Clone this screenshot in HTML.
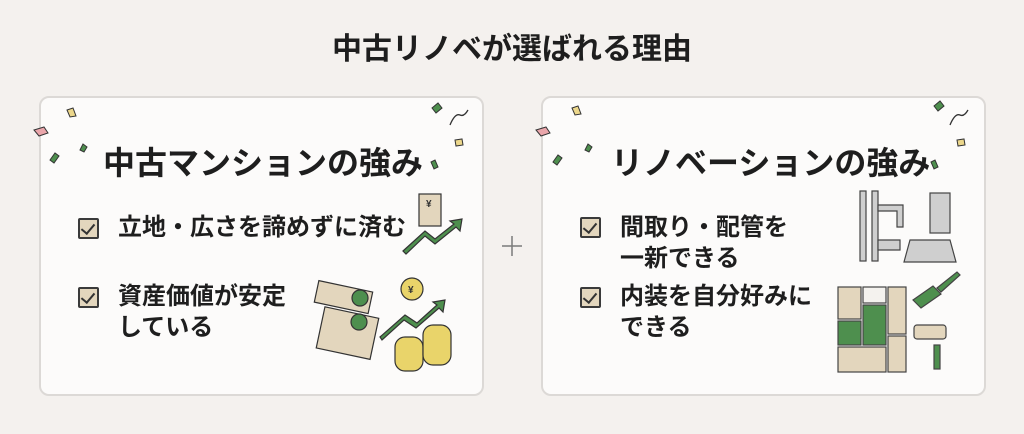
<!DOCTYPE html>
<html><head><meta charset="utf-8"><style>
*{margin:0;padding:0;box-sizing:border-box}
body{width:1024px;height:434px;background:#f4f1ee;position:relative;overflow:hidden;font-family:"Liberation Sans","Noto Sans CJK JP",sans-serif;color:#1e1e1e}
.t{position:absolute;font-weight:bold;white-space:nowrap}
.i{font-size:24px;line-height:31px}
.card{position:absolute;top:96px;width:445px;height:300px;background:#fcfbfa;border:2px solid #dcd9d6;border-radius:10px}
.cb{position:absolute;width:21px;height:21px;background:#e3d6bd;border:2px solid #3a3a3a;border-radius:2px}
.cb:after{content:"";position:absolute;left:4px;top:1px;width:6px;height:11px;border:solid #333;border-width:0 2px 2px 0;transform:rotate(40deg)}
svg{position:absolute;left:0;top:0}
</style></head><body>
<div class="t" style="left:0;width:1024px;text-align:center;top:32px;font-size:30px;line-height:36px">中古リノベが選ばれる理由</div>
<div class="card" style="left:39px"></div>
<div class="card" style="left:541px"></div>
<div class="t" style="left:103px;top:138px;font-size:32px">中古マンションの強み</div>
<div class="t" style="left:611px;top:138px;font-size:32px">リノベーションの強み</div>

<div class="cb" style="left:78px;top:218px"></div>
<div class="t i" style="left:118px;top:212px">立地・広さを諦めずに済む</div>
<div class="cb" style="left:78px;top:287px"></div>
<div class="t i" style="left:118px;top:281px">資産価値が安定<br>している</div>

<div class="cb" style="left:580px;top:217px"></div>
<div class="t i" style="left:620px;top:212px">間取り・配管を<br>一新できる</div>
<div class="cb" style="left:580px;top:287px"></div>
<div class="t i" style="left:620px;top:281px">内装を自分好みに<br>できる</div>

<svg width="1024" height="434">
<g stroke="#7a7a7a" stroke-width="1.5"><line x1="502" y1="246" x2="522" y2="246"/><line x1="512" y1="236" x2="512" y2="256"/></g>
<g stroke="#333" stroke-width="1">
<path d="M34 130 l10 -3 l4 6 l-9 3z" fill="#eaa6ab"/><path d="M67 110 l6 -2 l3 8 l-6 1z" fill="#ecd78b"/>
<path d="M50 160 l5 -7 l4 3 l-5 7z" fill="#4e8f4e"/><path d="M80 150 l3 -6 l4 3 l-3 5z" fill="#4e8f4e"/>
<path d="M432 108 l6 -5 l4 5 l-6 5z" fill="#4e8f4e"/><path d="M455 140 l7 -1 l1 6 l-7 1z" fill="#ecd78b"/><path d="M435 160 l3 7 l-4 2 l-3 -7z" fill="#4e8f4e"/>
<path d="M536 130 l10 -3 l4 6 l-9 3z" fill="#eaa6ab"/><path d="M572 108 l6 -2 l3 8 l-6 1z" fill="#ecd78b"/>
<path d="M553 162 l5 -7 l4 3 l-5 7z" fill="#4e8f4e"/><path d="M585 150 l3 -6 l4 3 l-3 5z" fill="#4e8f4e"/>
<path d="M934 106 l6 -5 l4 5 l-6 5z" fill="#4e8f4e"/><path d="M957 140 l7 -1 l1 6 l-7 1z" fill="#ecd78b"/><path d="M935 160 l3 7 l-4 2 l-3 -7z" fill="#4e8f4e"/>
</g>
<path d="M450 125 q5 -12 10 -10 q4 2 8 -5" fill="none" stroke="#333" stroke-width="1.3"/>
<path d="M950 125 q5 -12 10 -10 q4 2 8 -5" fill="none" stroke="#333" stroke-width="1.3"/>
<g stroke="#333" stroke-width="1.2">
<rect x="419" y="194" width="22" height="32" fill="#e3d6bd"/>
<path d="M403 251 l22 -20 l10 8 l19 -15 l-4 -3 l12 -2 l-2 12 l-4 -4 l-21 17 l-10 -8 l-19 18z" fill="#4e8f4e"/>
<rect x="316" y="286" width="55" height="22" fill="#e3d6bd" transform="rotate(12 343 297)"/>
<rect x="320" y="312" width="55" height="42" fill="#e3d6bd" transform="rotate(12 347 333)"/>
<circle cx="360" cy="298" r="8" fill="#4e8f4e"/><circle cx="359" cy="322" r="8" fill="#4e8f4e"/>
<path d="M380 337 l25 -22 l12 8 l20 -18 l-4 -3 l12 -2 l-2 12 l-4 -4 l-23 20 l-12 -8 l-22 20z" fill="#4e8f4e"/>
<circle cx="412" cy="289" r="11" fill="#e9d46a"/>
<rect x="395" y="337" width="28" height="34" rx="10" fill="#e9d46a"/>
<rect x="423" y="325" width="28" height="40" rx="10" fill="#e9d46a"/>
</g>
<g font-size="10" font-weight="bold" fill="#333"><text x="426" y="207">¥</text><text x="408" y="293">¥</text></g>
<g stroke="#444" stroke-width="1.2" fill="#cfcfcf">
<rect x="860" y="191" width="6" height="70"/><rect x="872" y="191" width="6" height="70"/>
<path d="M878 205 h25 v22 h-6 v-16 h-19z"/><path d="M878 240 h22 v10 h-22z"/><rect x="930" y="193" width="20" height="40"/>
<path d="M910 240 h40 l6 22 h-52z"/>
</g>
<g stroke="#444" stroke-width="1.2">
<rect x="838" y="287" width="23" height="32" fill="#e3d6bd"/><rect x="863" y="287" width="23" height="16" fill="#f4f2ee"/><rect x="888" y="287" width="18" height="47" fill="#e3d6bd"/>
<rect x="838" y="321" width="23" height="24" fill="#4e8f4e"/><rect x="863" y="305" width="23" height="40" fill="#4e8f4e"/><rect x="888" y="336" width="18" height="36" fill="#e3d6bd"/>
<rect x="838" y="347" width="48" height="25" fill="#e3d6bd"/>
<path d="M913 300 l20 -14 l8 8 l-20 14z" fill="#4e8f4e"/><path d="M937 288 l20 -16 l3 3 l-19 17z" fill="#4e8f4e"/>
<rect x="914" y="325" width="32" height="14" rx="3" fill="#e3d6bd"/><rect x="934" y="345" width="6" height="24" fill="#4e8f4e"/>
</g>
</svg>
</body></html>
